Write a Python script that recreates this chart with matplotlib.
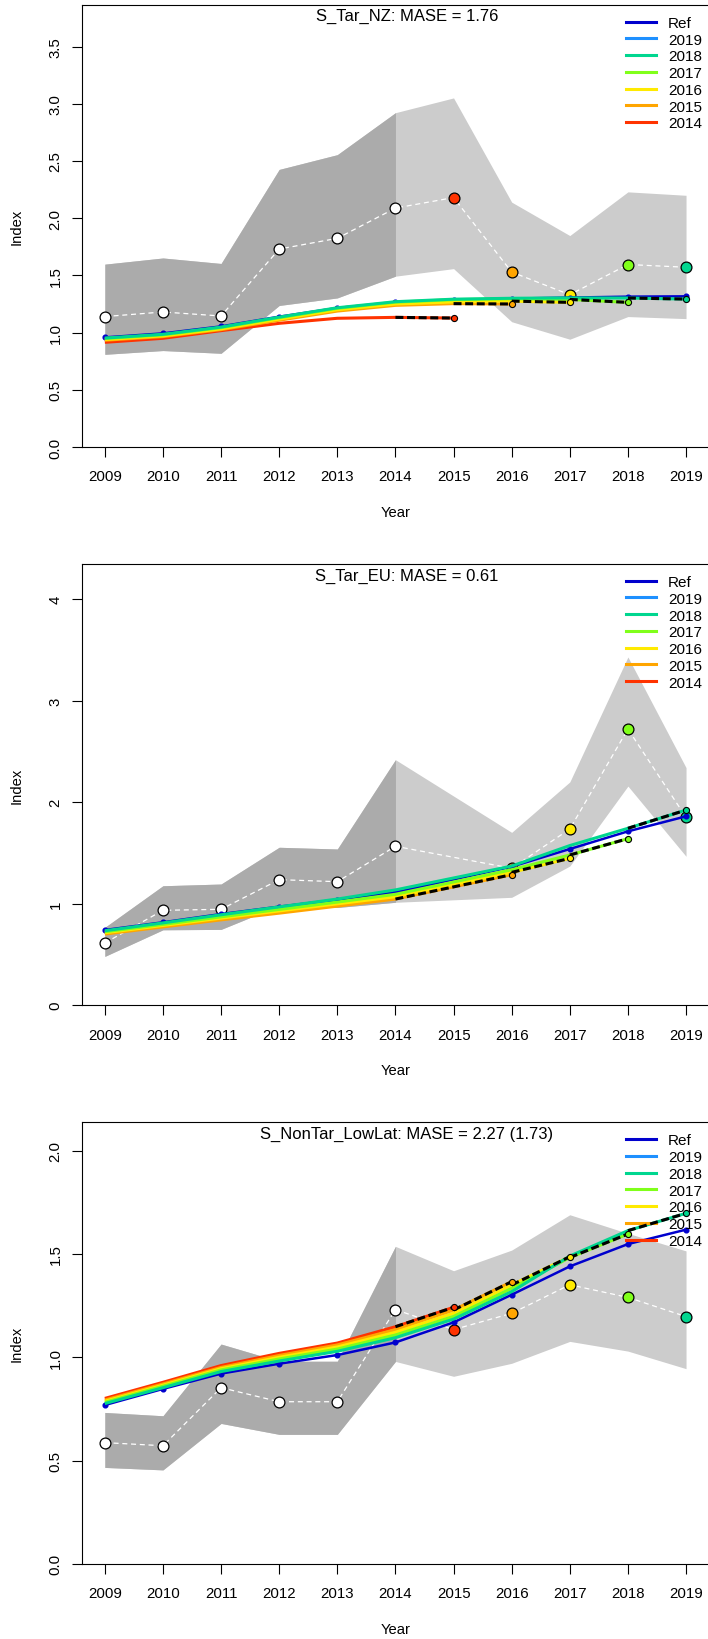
import numpy as np
import matplotlib
matplotlib.use("Agg")
import matplotlib.pyplot as plt
from matplotlib.lines import Line2D

plt.rcParams["font.family"] = ["Liberation Sans", "DejaVu Sans"]

nan = np.nan

# ── shared ────────────────────────────────────────────────────────────────────
YEARS = np.arange(2009, 2020)
LEGEND_LABELS = ["Ref", "2019", "2018", "2017", "2016", "2015", "2014"]

REF_COLOR = "#0000CD"
PEEL_COLORS = {2019: "#1E90FF", 2018: "#00D68F", 2017: "#80FF1A",
               2016: "#FFEA00", 2015: "#FFA500", 2014: "#FF3300"}
DARK_BAND = "#ABABAB"
LIGHT_BAND = "#CCCCCC"

# ── S_Tar_NZ ──────────────────────────────────────────────────────────────────
NZ_OBS = [1.14, 1.18, 1.145, 1.73, 1.824, 2.088, 2.18, 1.529, 1.331, 1.595, 1.571]
NZ_LO = [0.81, 0.843, 0.819, 1.237, 1.303, 1.493, 1.559, 1.095, 0.942, 1.14, 1.122]
NZ_HI = [1.598, 1.652, 1.604, 2.426, 2.555, 2.922, 3.051, 2.14, 1.848, 2.23, 2.2]
NZ_REF = [0.958, 0.993, 1.054, 1.139, 1.215, 1.264, 1.285, 1.297, 1.306, 1.314, 1.317]
NZ_PEELS = {
    2014: [0.915, 0.950, 1.017, 1.081, 1.125, 1.133],
    2015: [0.933, 0.965, 1.026, 1.108, 1.188, 1.238, 1.253],
    2016: [0.940, 0.972, 1.033, 1.118, 1.200, 1.250, 1.268, 1.275],
    2017: [0.948, 0.980, 1.043, 1.130, 1.212, 1.266, 1.288, 1.296, 1.290],
    2018: [0.952, 0.985, 1.048, 1.135, 1.217, 1.270, 1.292, 1.300, 1.303, 1.302],
}
NZ_PRED = {2014: 1.127, 2015: 1.250, 2016: 1.264, 2017: 1.264, 2018: 1.293}

# ── S_Tar_EU (no survey in 2015) ──────────────────────────────────────────────
EU_OBS = [0.612, 0.934, 0.944, 1.236, 1.216, 1.565, nan, 1.348, 1.735, 2.72, 1.85]
EU_LO = [0.48, 0.742, 0.746, 0.98, 0.962, 1.013, nan, 1.062, 1.37, 2.158, 1.466]
EU_HI = [0.766, 1.176, 1.193, 1.555, 1.538, 2.418, nan, 1.702, 2.199, 3.43, 2.34]
EU_REF = [0.740, 0.816, 0.897, 0.970, 1.039, 1.111, nan, 1.364, 1.538, 1.712, 1.860]
EU_PEELS = {
    2015: [0.700, 0.770, 0.840, 0.906, 0.975, 1.045, nan],
    2016: [0.713, 0.785, 0.857, 0.928, 0.998, 1.068, nan, 1.308],
    2017: [0.723, 0.795, 0.870, 0.943, 1.015, 1.092, nan, 1.334, 1.479],
    2018: [0.733, 0.810, 0.890, 0.968, 1.045, 1.135, nan, 1.370, 1.572, 1.742],
}
EU_PRED = {2015: 1.285, 2016: 1.446, 2017: 1.640, 2018: 1.922}

# ── S_NonTar_LowLat ───────────────────────────────────────────────────────────
LL_OBS = [0.587, 0.572, 0.853, 0.785, 0.785, 1.231, 1.134, 1.213, 1.351, 1.29, 1.197]
LL_LO = [0.467, 0.455, 0.68, 0.627, 0.627, 0.98, 0.908, 0.971, 1.077, 1.03, 0.945]
LL_HI = [0.733, 0.717, 1.064, 0.981, 0.981, 1.537, 1.419, 1.519, 1.69, 1.60, 1.515]
LL_REF = [0.769, 0.847, 0.921, 0.969, 1.011, 1.072, 1.169, 1.303, 1.44, 1.548, 1.618]
LL_PEELS = {
    2014: [0.801, 0.879, 0.960, 1.019, 1.069, 1.148],
    2015: [0.793, 0.871, 0.951, 1.009, 1.060, 1.134, 1.229],
    2016: [0.787, 0.865, 0.945, 1.000, 1.050, 1.121, 1.213, 1.350],
    2017: [0.782, 0.860, 0.939, 0.992, 1.040, 1.108, 1.198, 1.334, 1.483],
    2018: [0.776, 0.853, 0.931, 0.982, 1.029, 1.095, 1.185, 1.318, 1.490, 1.613],
}
LL_PRED = {2014: 1.242, 2015: 1.366, 2016: 1.487, 2017: 1.597, 2018: 1.697}


def draw_panel(ax, title, obs, lo, hi, ref, peels, preds, ytop, yticks, yticklabels):
    obs, lo, hi, ref = (np.asarray(a, float) for a in (obs, lo, hi, ref))
    ok = ~np.isnan(obs)
    x = YEARS[ok]

    # CI of the index: light over the whole series, darker before the peels
    ax.fill_between(x, lo[ok], hi[ok], color=LIGHT_BAND, lw=0, zorder=1)
    early = ok & (YEARS <= 2014)
    ax.fill_between(YEARS[early], lo[early], hi[early], color=DARK_BAND, lw=0, zorder=1)

    # observed index
    ax.plot(x, obs[ok], color="white", lw=0.9, ls=(0, (4, 3)), zorder=2)
    face = ["white" if y <= 2014 else PEEL_COLORS[y - 1] for y in x]
    for xi, yi, fc in zip(x, obs[ok], face):
        ax.plot(xi, yi, "o", ms=7.8, mfc=fc, mec="black", mew=0.9, zorder=3)

    # reference run
    ax.plot(x, ref[ok], color=REF_COLOR, lw=1.8, marker="o", ms=3.4, zorder=4)

    # hindcast peels + one-step-ahead predictions
    for yr in sorted(peels):
        v = np.asarray(peels[yr], float)
        py = YEARS[:len(v)]
        m = ~np.isnan(v)
        sx = np.append(py[m], yr + 1)
        sy = np.append(v[m], preds[yr])
        ax.plot(sx, sy, color=PEEL_COLORS[yr], lw=2.2, zorder=5, solid_capstyle="butt")
        ax.plot(sx[-2:], sy[-2:], color="black", lw=2.2, ls=(0, (2.6, 1.2)), zorder=6)
        ax.plot(sx[-1], sy[-1], "o", ms=4.4, mfc=PEEL_COLORS[yr], mec="black",
                mew=0.8, zorder=7)

    ax.set_xlim(2008.6, 2019.4)
    ax.set_ylim(0, ytop)
    ax.set_xticks(YEARS)
    ax.set_xticklabels([str(y) for y in YEARS])
    ax.set_yticks(yticks)
    ax.set_yticklabels(yticklabels, rotation=90, va="center")
    ax.tick_params(axis="both", length=7.2, width=0.8, labelsize=10.8)
    ax.tick_params(axis="x", pad=9)
    ax.tick_params(axis="y", pad=6.5)
    for side in ("left", "bottom", "top"):
        ax.spines[side].set_linewidth(0.8)
    ax.spines["right"].set_visible(False)

    ax.set_xlabel("Year", fontsize=10.6, va="center")
    ax.xaxis.set_label_coords(0.5, -0.147)
    ax.set_ylabel("Index", fontsize=10.6, va="center")
    ax.yaxis.set_label_coords(-0.103, 0.5)

    axh = ax.get_position().height * 1640
    ax.text(0.5184, 1 - 15.4 / axh, title, transform=ax.transAxes,
            ha="center", va="baseline", fontsize=12, zorder=8)

    handles = [Line2D([0], [0], color=REF_COLOR, lw=2.2)]
    handles += [Line2D([0], [0], color=PEEL_COLORS[y], lw=2.2)
                for y in (2019, 2018, 2017, 2016, 2015, 2014)]
    ax.legend(handles, LEGEND_LABELS, loc="upper left",
              bbox_to_anchor=(0.8673, 1 - 11 / axh), bbox_transform=ax.transAxes,
              frameon=False, borderpad=0, borderaxespad=0, handlelength=1.96,
              handletextpad=0.78, labelspacing=0.18, fontsize=11)


fig = plt.figure(figsize=(7.08, 16.4), dpi=100)
left, width = 0.11525, 0.88658
ax1 = fig.add_axes([left, 0.72683, width, 0.26957])
ax2 = fig.add_axes([left, 0.38652, width, 0.26896])
ax3 = fig.add_axes([left, 0.04579, width, 0.26921])

draw_panel(ax1, "S_Tar_NZ: MASE = 1.76", NZ_OBS, NZ_LO, NZ_HI, NZ_REF, NZ_PEELS, NZ_PRED,
           3.864, np.arange(0, 3.6, 0.5), ["0.0", "0.5", "1.0", "1.5", "2.0", "2.5", "3.0", "3.5"])
draw_panel(ax2, "S_Tar_EU: MASE = 0.61", EU_OBS, EU_LO, EU_HI, EU_REF, EU_PEELS, EU_PRED,
           4.346, [0, 1, 2, 3, 4], ["0", "1", "2", "3", "4"])
draw_panel(ax3, "S_NonTar_LowLat: MASE = 2.27 (1.73)", LL_OBS, LL_LO, LL_HI, LL_REF,
           LL_PEELS, LL_PRED, 2.137, np.arange(0, 2.1, 0.5), ["0.0", "0.5", "1.0", "1.5", "2.0"])

fig.savefig("out.png", dpi=100)
